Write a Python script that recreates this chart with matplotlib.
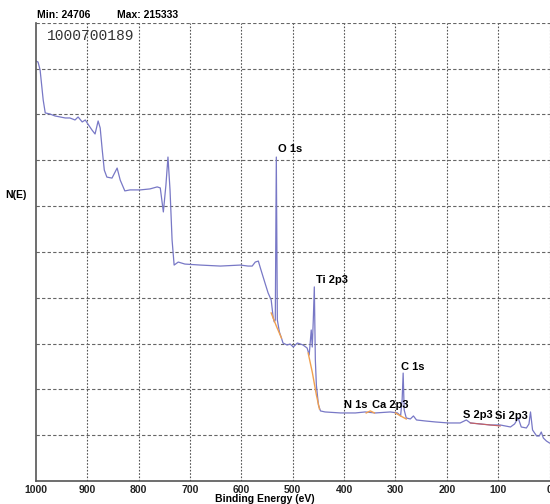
import numpy as np
import matplotlib.pyplot as plt

# survey spectrum (binding energy in eV, counts)
energy = [1000, 996, 992, 986, 982, 973, 963, 953, 943, 934, 924, 918, 910, 904,
          899, 891, 885, 879, 875, 871, 867, 862, 852, 846, 842, 836, 827, 817,
          797, 778, 764, 758, 752, 747, 743, 739, 735, 731, 723, 710, 680, 641,
          602, 587, 579, 573, 567, 563, 560, 554, 548, 542, 538, 536, 534, 532,
          530, 526, 522, 519, 511, 505, 499, 491, 485, 480, 472, 468, 464, 462,
          460, 458, 456, 454, 450, 446, 437, 407, 378, 359, 339, 310, 296, 290,
          287, 285, 283, 279, 271, 265, 259, 242, 222, 197, 174, 162, 154, 135,
          115, 96, 76, 68, 61, 55, 45, 40, 37, 33, 25, 20, 16, 12, 6, 0]
counts = [215300, 214800, 210800, 195900, 189400, 188900, 187900, 187400,
          186900, 186900, 185900, 187400, 184900, 185900, 183900, 180900,
          178900, 185400, 181900, 170900, 160900, 157400, 156900, 159900,
          161900, 155900, 150500, 151000, 151000, 151500, 152500, 152000,
          140000, 153400, 167400, 151000, 126000, 113500, 115000, 114000,
          113500, 113000, 113500, 113000, 113000, 115000, 115500, 112000,
          109500, 104500, 99600, 96100, 87100, 85100, 86100, 167400, 86100,
          80100, 77100, 74600, 73600, 74100, 72600, 74600, 74100, 73600,
          72100, 68600, 81100, 72600, 86100, 102600, 66100, 53600, 43700,
          40700, 40200, 39700, 39700, 40200, 39700, 40200, 39700, 38200,
          46200, 59600, 41200, 37200, 36700, 38200, 36200, 35700, 35200,
          34700, 34700, 36200, 34700, 34200, 33700, 33700, 32700, 34200,
          37200, 32700, 32200, 34200, 40200, 31200, 28200, 28200, 30200,
          27200, 25700, 24706]

# fitted backgrounds under the peaks
bg_o1s_e = [542, 532, 522]
bg_o1s_c = [89600, 83100, 77100]
bg_ti_e = [470, 462, 454, 448]
bg_ti_c = [69600, 60100, 48700, 41700]
bg_n1s_e = [357, 349, 341]
bg_n1s_c = [39700, 40700, 39700]
bg_c1s_e = [300, 290, 279]
bg_c1s_c = [39700, 38200, 36700]
bg_s2p_e = [154, 96]
bg_s2p_c = [34700, 33200]

# peak labels: text, energy, counts
labels = ["O 1s", "Ti 2p3", "C 1s", "N 1s", "Ca 2p3", "S 2p3", "Si 2p3"]
label_e = [528, 454, 289, 400, 346, 168, 106]
label_c = [171400, 106000, 62600, 43700, 43700, 38700, 38200]

xticks = [1000, 900, 800, 700, 600, 500, 400, 300, 200, 100, 0]

fig = plt.figure(figsize=(5.5, 5.04), dpi=100)
ax = fig.add_axes([36 / 550, 1 - 481 / 504, 513.5 / 550, 458.3 / 504])

ylo, yhi = 5744, 234440
ax.set_xlim(1000, 0)
ax.set_ylim(ylo, yhi)

# grid
for e in xticks[1:]:
    ax.axvline(e, color='#555555', lw=0.8, ls=(0, (1.5, 1.5)), zorder=0)
for y in np.linspace(ylo, yhi, 11)[1:]:
    ax.axhline(y, color='#666666', lw=0.8, ls=(0, (3, 2)), zorder=0)

ax.plot(energy, counts, color='#7878c6', lw=0.9, zorder=2)
for be, bc in [(bg_o1s_e, bg_o1s_c), (bg_ti_e, bg_ti_c), (bg_n1s_e, bg_n1s_c),
               (bg_c1s_e, bg_c1s_c)]:
    ax.plot(be, bc, color='#f0a050', lw=1.0, zorder=3)
ax.plot(bg_s2p_e, bg_s2p_c, color='#c86060', lw=0.8, zorder=3)

for t, e, c in zip(labels, label_e, label_c):
    ax.text(e, c, t, fontsize=8, fontweight='bold', family='Liberation Sans',
            ha='left', va='center', zorder=4)

ax.set_xticks(xticks)
ax.set_xticklabels([str(x) for x in xticks], fontsize=7.5, fontweight='bold',
                   family='Liberation Sans', color='#222222')
ax.set_yticks([])
ax.tick_params(axis='x', length=0, pad=3)
for s in ['top', 'right']:
    ax.spines[s].set_visible(False)
for s in ['left', 'bottom']:
    ax.spines[s].set_color('#555555')
    ax.spines[s].set_linewidth(1.2)

fig.text(265 / 550, 1 - 499 / 504, 'Binding Energy (eV)', fontsize=7.5,
         fontweight='bold', family='Liberation Sans', ha='center', va='center')
fig.text(5 / 550, 1 - 195 / 504, 'N(E)', fontsize=7.5, fontweight='bold',
         family='Liberation Sans', ha='left', va='center')
fig.text(37 / 550, 1 - 15 / 504, 'Min: 24706', fontsize=7.5, fontweight='bold',
         family='Liberation Sans', ha='left', va='center')
fig.text(117 / 550, 1 - 15 / 504, 'Max: 215333', fontsize=7.5, fontweight='bold',
         family='Liberation Sans', ha='left', va='center')
fig.text(47 / 550, 1 - 36 / 504, '1000700189', fontsize=10.5,
         family='Liberation Mono', color='#333333', ha='left', va='center')

fig.savefig('out.png', dpi=100)
